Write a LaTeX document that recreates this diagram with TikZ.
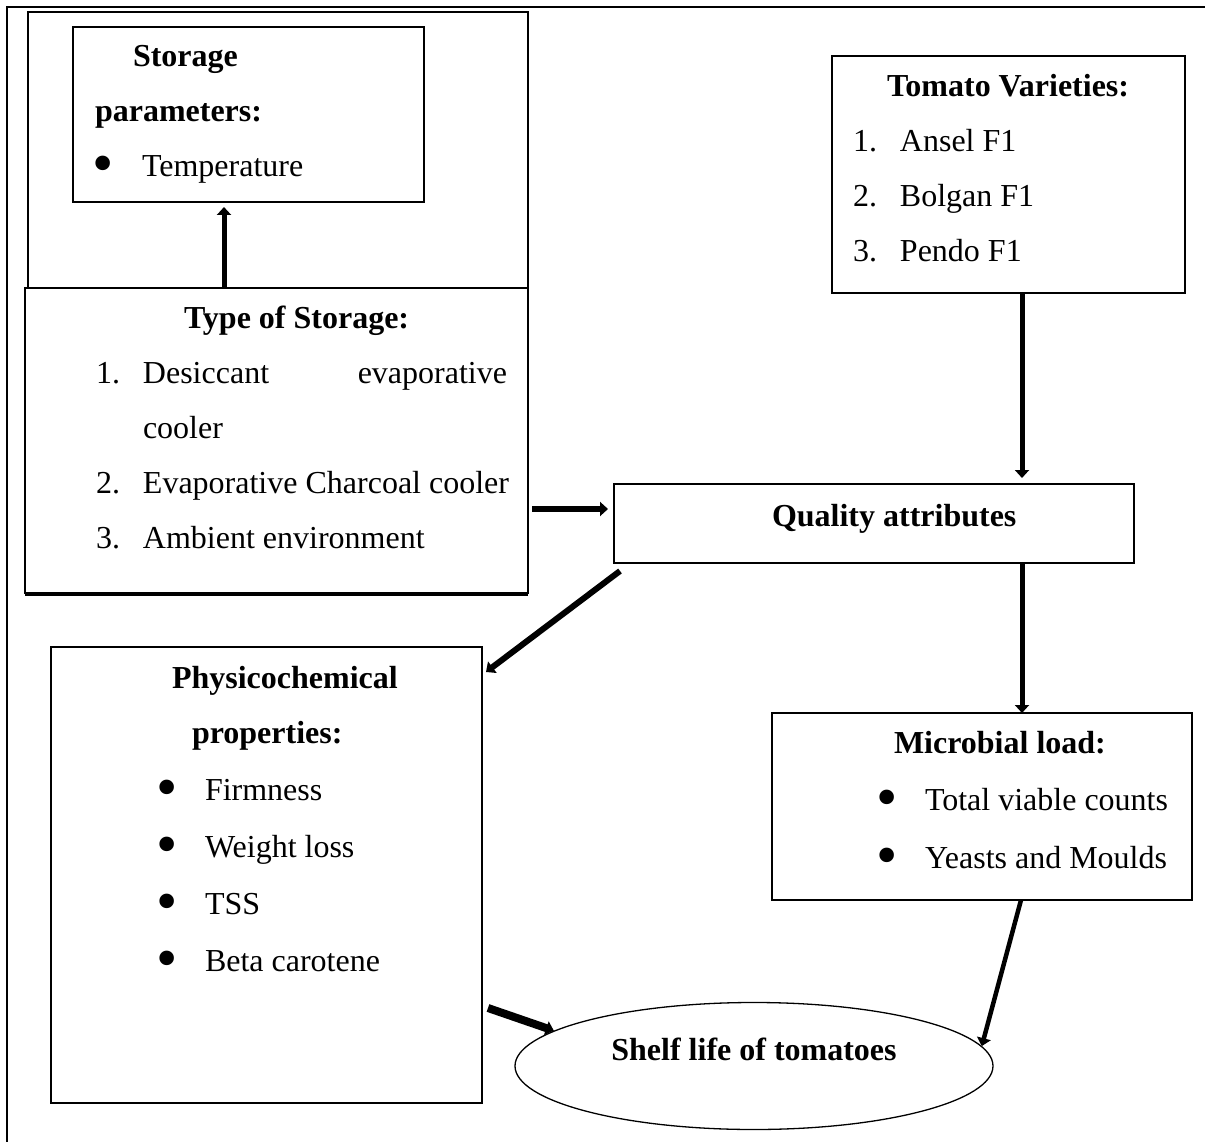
\documentclass[tikz,border=0pt]{standalone}
\usepackage{fontspec}
\setmainfont{Liberation Serif}
\usetikzlibrary{positioning,shapes.geometric,arrows.meta}
\newcommand{\bul}{\makebox[49pt][l]{\raisebox{-7pt}{\scalebox{1.9}{\textbullet}}}}

\begin{document}
\begin{tikzpicture}[x=1pt,y=-1pt,
	box/.style={draw,line width=1.3pt,inner sep=0pt,outer sep=0pt,anchor=north west},
	arr/.style={-{Triangle[length=8pt,width=14pt]},line width=5pt},
	every node/.style={font=\fontsize{32}{55}\selectfont}]
			\useasboundingbox (0,0) rectangle (1205,1142);
			\draw[line width=2pt] (7,1142) -- (7,7) -- (1205,7);
			% storage
			\node[box,minimum width=500pt,minimum height=276pt](stor) at (28,12) {};
			\node[box](param) at (73,27) {\parbox[t][175pt][t]{351pt}{%
				\rule{0pt}{40pt}\hspace*{60pt}\textbf{Storage}\\
				\hspace*{22pt}\textbf{parameters:}\\
				\hspace*{20pt}\bul Temperature}};
			\node[box,fill=white](type) at (25,288) {\parbox[t][305pt][t]{503pt}{%
				\rule{0pt}{40pt}\hspace*{159pt}\textbf{Type of Storage:}\\
				\hspace*{71pt}\makebox[47pt][l]{1.}\makebox[364pt][l]{Desiccant\hfill evaporative}\\
				\hspace*{118pt}cooler\\
				\hspace*{71pt}\makebox[47pt][l]{2.}Evaporative Charcoal cooler\\
				\hspace*{71pt}\makebox[47pt][l]{3.}Ambient environment}};
			\draw[line width=1.3pt] ([yshift=-2pt]type.south west) -- ([yshift=-2pt]type.south east);
			% varieties
			\node[box](tom) at (832,56) {\parbox[t][237pt][t]{353pt}{%
				\rule{0pt}{41pt}\hspace*{55pt}\textbf{Tomato Varieties:}\\
				\hspace*{21pt}\makebox[47pt][l]{1.}Ansel F1\\
				\hspace*{21pt}\makebox[47pt][l]{2.}Bolgan F1\\
				\hspace*{21pt}\makebox[47pt][l]{3.}Pendo F1}};
			\node[box](qual) at (614,484) {\parbox[t][79pt][t]{520pt}{%
				\rule{0pt}{42pt}\hspace*{158pt}\textbf{Quality attributes}}};
			% properties
			\node[box](phys) at (51,647) {\parbox[t][456pt][t]{431pt}{\fontsize{32}{57}\selectfont
				\rule{0pt}{41pt}\hspace*{121pt}\textbf{Physicochemical}\\[-2pt]
				\hspace*{141pt}\textbf{properties:}\\
				\hspace*{105pt}\bul Firmness\\
				\hspace*{105pt}\bul Weight loss\\
				\hspace*{105pt}\bul TSS\\
				\hspace*{105pt}\bul Beta carotene}};
			\node[box](micro) at (772,713) {\parbox[t][187pt][t]{420pt}{\fontsize{32}{57.5}\selectfont
				\rule{0pt}{40pt}\hspace*{122pt}\textbf{Microbial load:}\\
				\hspace*{104pt}\bul Total viable counts\\
				\hspace*{104pt}\bul Yeasts and Moulds}};
			\node[ellipse,draw,line width=1.3pt,minimum width=478pt,minimum height=127pt,inner sep=0pt,
				text height=22pt,text depth=34pt,font=\bfseries\fontsize{32}{38}\selectfont](shelf) at (754,1066) {Shelf life of tomatoes};
			% arrows
			\path[arr]
			([xshift=199pt]type.north west) edge ([xshift=151pt,yshift=-5pt]param.south west)
			([xshift=190pt]tom.south west) edge ([xshift=408pt,yshift=6pt]qual.north west)
			([xshift=4pt,yshift=84pt]type.south east) edge[line width=6.5pt] ([xshift=-6pt,yshift=54pt]qual.south west)
			([xshift=6pt,yshift=-8pt]qual.south west) edge[line width=6pt] ([xshift=4pt,yshift=-25pt]phys.north east)
			([xshift=408pt]qual.south west) edge ([xshift=250pt]micro.north west)
			([xshift=6pt,yshift=95pt]phys.south east) edge[line width=8pt] (shelf.170)
			([xshift=249pt]micro.south west) edge[line width=4.5pt] (shelf.5);
\end{tikzpicture}
\end{document}
